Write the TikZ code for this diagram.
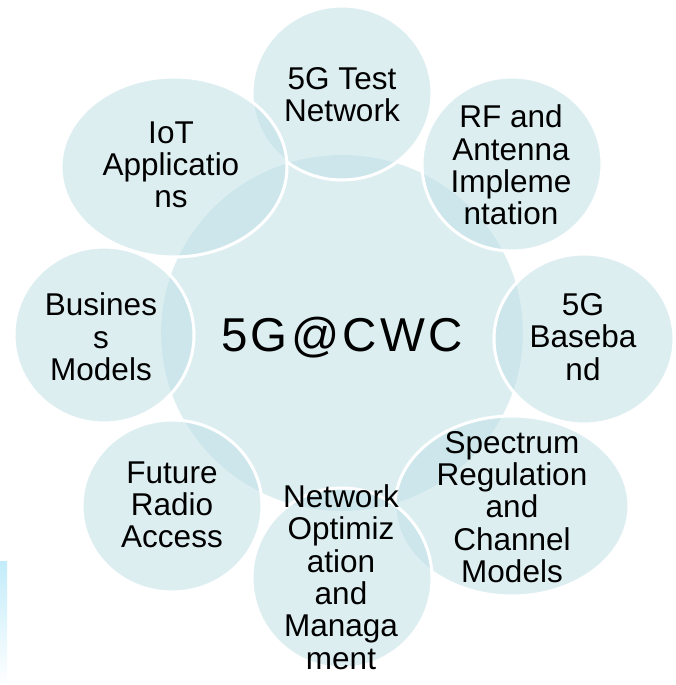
\documentclass[tikz,border=0pt]{standalone}
\usepackage{fontspec}
\setmainfont{Liberation Sans}
\newfontfamily\hubfont[LetterSpace=7]{Liberation Sans}
\usepackage{tikz}

\definecolor{bubble}{RGB}{187,222,228}
\definecolor{edgeglow}{RGB}{195,236,250}

\begin{document}
\begin{tikzpicture}[x=1pt, y=-1pt,
  disc/.style={fill=bubble, fill opacity=0.5},
  petal/.style={disc, draw=white, line width=3pt},
  lbl/.style={align=center, font=\fontsize{31.5}{32.3}\selectfont}]

\useasboundingbox (0,0) rectangle (675,685);

% light strip on the lower left edge
\shade[top color=edgeglow, bottom color=white] (0,561) rectangle (7,685);

% hub
\fill[disc] (342,333) ellipse [x radius=181, y radius=178];

% ring of petals, clockwise from the top
\path[petal] (342,93)  ellipse [x radius=90,  y radius=87];
\path[petal] (512,164) ellipse [x radius=90,  y radius=87];
\path[petal] (584,339) ellipse [x radius=90,  y radius=85];
\path[petal] (512,506) ellipse [x radius=117, y radius=90];
\path[petal] (342,578) ellipse [x radius=90,  y radius=90];
\path[petal] (172,506) ellipse [x radius=90,  y radius=86];
\path[petal] (104,335) ellipse [x radius=90,  y radius=88];
\path[petal] (174,167) ellipse [x radius=113, y radius=90];

% labels
\path
(342,95)  node[lbl] (test)     {5G Test\\Network}
(511,165) node[lbl] (rf)       {RF and\\Antenna\\Impleme\\ntation}
(583,337) node[lbl] (baseband) {5G\\Baseba\\nd}
(512,507) node[lbl] (spectrum) {Spectrum\\Regulation\\and\\Channel\\Models}
(341,577) node[lbl] (netopt)   {Network\\Optimiz\\ation\\and\\Managa\\ment}
(172,505) node[lbl] (radio)    {Future\\Radio\\Access}
(101,337) node[lbl] (business) {Busines\\s\\Models}
(171,165) node[lbl] (iot)      {IoT\\Applicatio\\ns};

\node[font=\hubfont\fontsize{47.5}{50}\selectfont, anchor=base] (hub) at (342,351) {5G@CWC};

\end{tikzpicture}
\end{document}
